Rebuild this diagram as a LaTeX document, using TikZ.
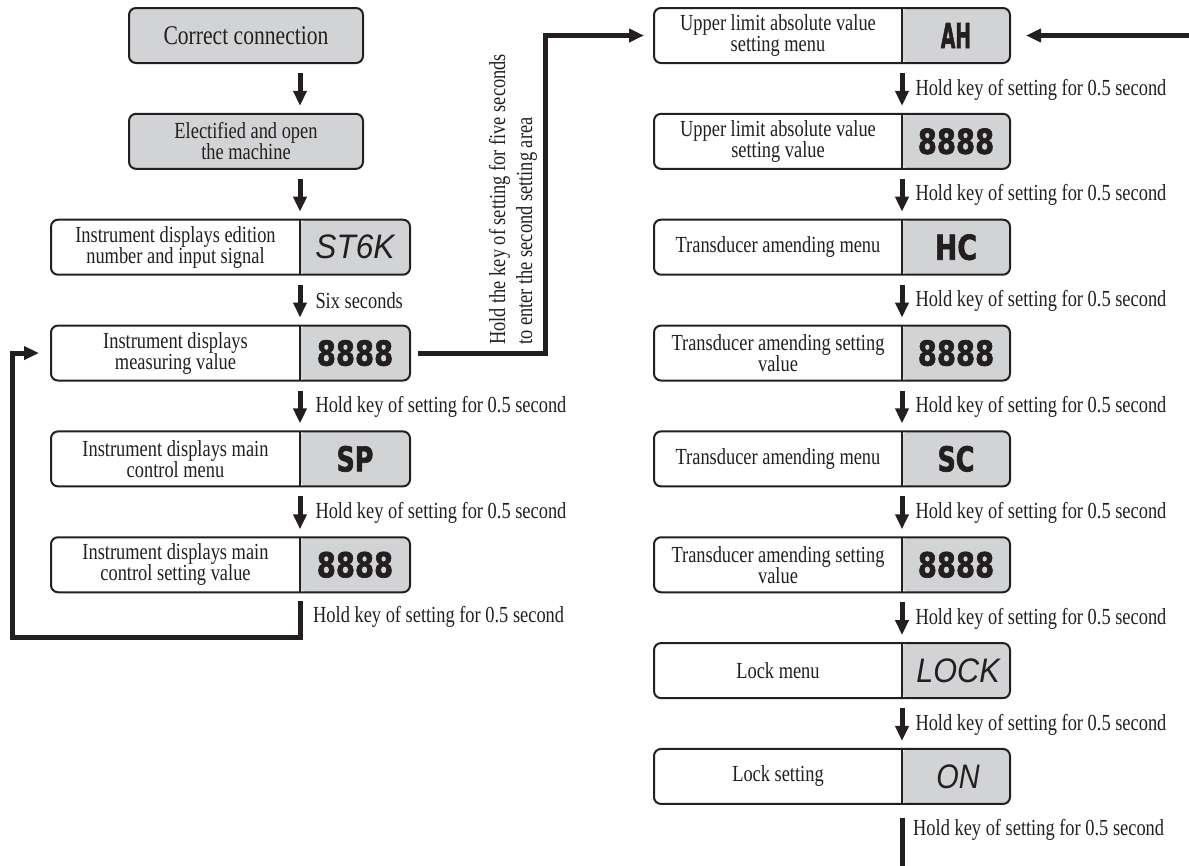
\documentclass[tikz,border=0pt]{standalone}
\usepackage{fontspec}
\usepackage{graphicx}
\setmainfont{Liberation Serif}[FakeStretch=0.8]
\newfontfamily\dispfont{DejaVu Sans}[BoldFeatures={FakeBold=2}]
\newfontfamily\segfont{Liberation Sans}
\usetikzlibrary{arrows.meta,calc}
\definecolor{ink}{HTML}{231F20}
\definecolor{dispgray}{HTML}{D1D3D4}

\tikzset{
  rowbox/.style={draw=ink, line width=2pt, rounded corners=7pt, inner sep=0pt,
                 minimum height=55pt},
  topbox/.style={rowbox, fill=dispgray, minimum width=234pt, align=center,
                 text=ink, font=\fontsize{23}{21}\selectfont},
  splitbox/.style={rowbox, fill=white,
    path picture={
      \fill[dispgray] ([xshift=-#1]path picture bounding box.north east)
                      rectangle (path picture bounding box.south east);
      \draw[ink, line width=1.8pt]
        ([xshift=-#1]path picture bounding box.north east) --
        ([xshift=-#1]path picture bounding box.south east);
    }},
  boxtext/.style={inner sep=0pt, align=center, text=ink,
                  font=\fontsize{23}{21}\selectfont},
  disp/.style={inner sep=0pt, text=ink,
               font=\dispfont\bfseries\fontsize{34.3}{34.3}\selectfont},
  seg/.style={inner sep=0pt, text=ink,
              font=\segfont\itshape\fontsize{34}{34}\selectfont},
  lbl/.style={inner sep=0pt, text=ink, font=\fontsize{23}{23}\selectfont},
  flow/.style={draw=ink, line width=5pt, line join=miter,
               -{Triangle[width=13pt,length=15pt]}},
  flowline/.style={draw=ink, line width=5pt},
}

\begin{document}
\begin{tikzpicture}[x=1pt,y=-1pt]
\useasboundingbox (0,0) rectangle (1189,865);

% column guides for the vertical connectors
\coordinate (colL) at (300,0);
\coordinate (colR) at (902,0);
\coordinate (fbL) at (12,637);
\coordinate (jog) at (545,0);
\coordinate (rtn) at (1196,0);
\coordinate (bot) at (0,870);

% ---------------- left column ----------------
\node[topbox, font=\fontsize{27}{27}\selectfont] (b1) at (246,35.5) {Correct connection};
\node[topbox] (b2) at (246,141.35) {Electified and open\\the machine};

\node[splitbox=110pt, minimum width=359pt] (b3) at (230.5,247.2) {};
\node[boxtext] (b3t) at (175.5,247.2) {Instrument displays edition\\number and input signal};
\node[seg] (b3d) at (355,247.2) {\scalebox{0.93}[1]{ST6K}};

\node[splitbox=110pt, minimum width=359pt] (b4) at (230.5,353.05) {};
\node[boxtext] (b4t) at (175.5,353.05) {Instrument displays\\measuring value};
\node[disp] (b4d) at (355,353.05) {\scalebox{0.8}[1]{8888}};

\node[splitbox=110pt, minimum width=359pt] (b5) at (230.5,458.9) {};
\node[boxtext] (b5t) at (175.5,458.9) {Instrument displays main\\control menu};
\node[disp] (b5d) at (355,458.9) {\scalebox{0.74}[1]{SP}};

\node[splitbox=110pt, minimum width=359pt] (b6) at (230.5,564.75) {};
\node[boxtext] (b6t) at (175.5,564.75) {Instrument displays main\\control setting value};
\node[disp] (b6d) at (355,564.75) {\scalebox{0.8}[1]{8888}};

\draw[flow] ($(b1.south -| colL)+(0,9)$) -- ($(b2.north -| colL)+(0,-7)$);
\draw[flow] ($(b2.south -| colL)+(0,9)$) -- ($(b3.north -| colL)+(0,-7)$);
\draw[flow] ($(b3.south -| colL)+(0,9)$) --
  node[lbl, right=13pt] (l3) {Six seconds} ($(b4.north -| colL)+(0,-7)$);
\draw[flow] ($(b4.south -| colL)+(0,9)$) --
  node[lbl, right=13pt] (l4) {Hold key of setting for 0.5 second} ($(b5.north -| colL)+(0,-7)$);
\draw[flow] ($(b5.south -| colL)+(0,9)$) --
  node[lbl, right=13pt] (l5) {Hold key of setting for 0.5 second} ($(b6.north -| colL)+(0,-7)$);

% return loop back to the measuring display
\draw[flow] ($(b6.south -| colL)+(0,8)$) |- (fbL) |- ($(b4.west)+(-11,0)$);
\node[lbl, anchor=west] (l6) at (313,617) {Hold key of setting for 0.5 second};

% ---------------- right column ----------------
\node[splitbox=108pt, minimum width=356pt] (r0) at (832,35.5) {};
\node[boxtext] (r0t) at (778,35.5) {Upper limit absolute value\\setting menu};
\node[disp] (r0d) at (956,35.5) {\scalebox{0.55}[1]{AH}};

\node[splitbox=108pt, minimum width=356pt] (r1) at (832,141.35) {};
\node[boxtext] (r1t) at (778,141.35) {Upper limit absolute value\\setting value};
\node[disp] (r1d) at (956,141.35) {\scalebox{0.8}[1]{8888}};

\node[splitbox=108pt, minimum width=356pt] (r2) at (832,247.2) {};
\node[boxtext] (r2t) at (778,247.2) {Transducer amending menu};
\node[disp] (r2d) at (956,247.2) {\scalebox{0.78}[1]{HC}};

\node[splitbox=108pt, minimum width=356pt] (r3) at (832,353.05) {};
\node[boxtext] (r3t) at (778,353.05) {Transducer amending setting\\value};
\node[disp] (r3d) at (956,353.05) {\scalebox{0.8}[1]{8888}};

\node[splitbox=108pt, minimum width=356pt] (r4) at (832,458.9) {};
\node[boxtext] (r4t) at (778,458.9) {Transducer amending menu};
\node[disp] (r4d) at (956,458.9) {\scalebox{0.74}[1]{SC}};

\node[splitbox=108pt, minimum width=356pt] (r5) at (832,564.75) {};
\node[boxtext] (r5t) at (778,564.75) {Transducer amending setting\\value};
\node[disp] (r5d) at (956,564.75) {\scalebox{0.8}[1]{8888}};

\node[splitbox=108pt, minimum width=356pt] (r6) at (832,670.6) {};
\node[boxtext] (r6t) at (778,670.6) {Lock menu};
\node[seg] (r6d) at (958,670.6) {\scalebox{0.9}[1]{LOCK}};

\node[splitbox=108pt, minimum width=356pt] (r7) at (832,776.45) {};
\node[boxtext] (r7t) at (778,776.45) {Lock setting};
\node[seg] (r7d) at (958,776.45) {\scalebox{0.85}[1]{ON}};

\foreach \a/\b in {r0/r1,r1/r2,r2/r3,r3/r4,r4/r5,r5/r6,r6/r7}{
  \draw[flow] ($(\a.south -| colR)+(0,9)$) --
    node[lbl, right=11pt] (lbl-\a) {Hold key of setting for 0.5 second}
    ($(\b.north -| colR)+(0,-7)$);
}

% jump from the measuring display into the second setting area
\draw[flow] ($(b4.east)+(7,0)$) -| (jog |- r0.west) -- ($(r0.west)+(-9,0)$);
\node[lbl, rotate=90, anchor=west, align=left, font=\fontsize{23}{27}\selectfont]
  (hold5) at (513,345)
  {Hold the key of setting for five seconds\\to enter the second setting area};

% continuation below the lock setting and the loop back to the top
\draw[flowline] ($(r7.south -| colR)+(0,13)$) -- (colR |- bot);
\node[lbl, anchor=west] (l7) at (913,830) {Hold key of setting for 0.5 second};
\draw[flow] (rtn |- r0.east) -- ($(r0.east)+(15,0)$);

\end{tikzpicture}
\end{document}
